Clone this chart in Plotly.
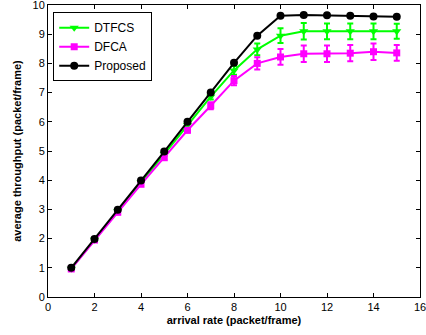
import plotly.graph_objects as go

arrival = [1, 2, 3, 4, 5, 6, 7, 8, 9, 10, 11, 12, 13, 14, 15]
dtfcs = [0.97, 1.96, 2.94, 3.93, 4.9, 5.88, 6.86, 7.76, 8.48, 8.95, 9.1, 9.1, 9.1, 9.1, 9.1]
dtfcs_err = [0.03, 0.04, 0.05, 0.06, 0.07, 0.08, 0.1, 0.15, 0.2, 0.25, 0.28, 0.27, 0.27, 0.27, 0.26]
dfca = [0.96, 1.95, 2.9, 3.86, 4.77, 5.71, 6.55, 7.41, 8.0, 8.22, 8.33, 8.33, 8.35, 8.4, 8.36]
dfca_err = [0.03, 0.04, 0.05, 0.06, 0.07, 0.08, 0.12, 0.16, 0.21, 0.27, 0.28, 0.28, 0.28, 0.28, 0.27]
proposed = [1.0, 1.99, 2.99, 3.99, 4.98, 6.0, 7.0, 8.02, 8.95, 9.63, 9.66, 9.65, 9.63, 9.61, 9.6]

font = "Liberation Sans, Arial, sans-serif"

fig = go.Figure()
fig.add_trace(go.Scatter(
    x=arrival, y=dtfcs, name="DTFCS", mode="lines+markers",
    line=dict(color="#00ff00", width=2),
    marker=dict(symbol="triangle-down", size=8, color="#00ff00"),
    error_y=dict(type="data", array=dtfcs_err, color="#00ff00", thickness=2, width=3),
))
fig.add_trace(go.Scatter(
    x=arrival, y=dfca, name="DFCA", mode="lines+markers",
    line=dict(color="#ff00ff", width=2),
    marker=dict(symbol="square", size=7, color="#ff00ff"),
    error_y=dict(type="data", array=dfca_err, color="#ff00ff", thickness=2, width=3),
))
fig.add_trace(go.Scatter(
    x=arrival, y=proposed, name="Proposed", mode="lines+markers",
    line=dict(color="#000000", width=2),
    marker=dict(symbol="circle", size=8, color="#000000"),
))

axis_common = dict(
    showgrid=False, zeroline=False, showline=True, linecolor="black", linewidth=1,
    mirror="ticks", ticks="inside", ticklen=4, tickcolor="black",
    tickfont=dict(family=font, size=11, color="black"),
    automargin=False, ticklabeloverflow="allow",
)

fig.update_layout(
    width=426, height=335,
    margin=dict(l=48, r=6, t=5, b=38, autoexpand=False),
    paper_bgcolor="white", plot_bgcolor="white",
    font=dict(family=font, size=11, color="black"),
    xaxis=dict(range=[0, 16], dtick=2, tick0=0,
               title=dict(text="<b>arrival rate (packet/frame)</b>", font=dict(family=font, size=11), standoff=4),
               **axis_common),
    yaxis=dict(range=[0, 10], dtick=1, tick0=0,
               title=dict(text="<b>average throughput (packet/frame)</b>", font=dict(family=font, size=11), standoff=8),
               **axis_common),
    legend=dict(x=0.014, y=0.975, xanchor="left", yanchor="top",
                bordercolor="black", borderwidth=1, bgcolor="white",
                font=dict(family=font, size=12, color="black"),
                tracegroupgap=0, itemwidth=30),
    showlegend=True,
)

fig.write_html("out.html", config={"displayModeBar": False},
               post_script="document.body.style.margin='0';document.body.style.padding='0';")
